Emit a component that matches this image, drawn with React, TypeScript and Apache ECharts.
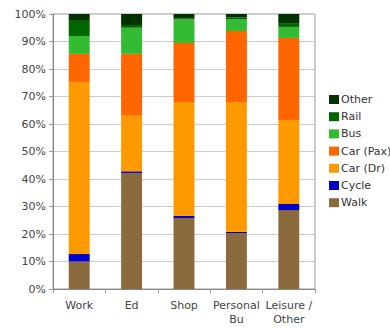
import React, { useEffect, useRef } from "react";
import * as echarts from "echarts";

const categories = ["Work", "Ed", "Shop", "Personal\nBu", "Leisure /\nOther"];
const walk = [10, 42.2, 25.8, 20.4, 28.7];
const cycle = [2.7, 0.6, 0.8, 0.4, 2.2];
const carDr = [62.6, 20.5, 41.4, 47.2, 30.6];
const carPax = [10.2, 22.2, 21.5, 25.8, 29.8];
const bus = [6.5, 9.5, 8.5, 4.4, 4.0];
const rail = [5.5, 1.0, 0.5, 0.5, 1.4];
const other = [2.5, 4.0, 1.5, 1.3, 3.3];

const seriesNames = ["Walk", "Cycle", "Car (Dr)", "Car (Pax)", "Bus", "Rail", "Other"];
const seriesData = [walk, cycle, carDr, carPax, bus, rail, other];
const seriesColors = ["#8B6B3D", "#0000CC", "#FF9900", "#FF6600", "#33BB33", "#006600", "#003300"];
const legendOrder = ["Other", "Rail", "Bus", "Car (Pax)", "Car (Dr)", "Cycle", "Walk"];

export default function App() {
  const ref = useRef<HTMLDivElement>(null);
  useEffect(() => {
    if (!ref.current) return;
    const chart = echarts.init(ref.current, undefined, { renderer: "svg" });
    const font = "DejaVu Sans";
    chart.setOption({
      animation: false,
      backgroundColor: "#ffffff",
      grid: {
        left: 53,
        right: 75,
        top: 14,
        bottom: 40,
        show: true,
        borderColor: "#999999",
        borderWidth: 1,
      },
      legend: {
        data: legendOrder,
        orient: "vertical",
        left: 329,
        top: 93,
        padding: 0,
        itemWidth: 10,
        itemHeight: 9,
        itemGap: 4.2,
        icon: "rect",
        textStyle: { fontFamily: font, fontSize: 11, color: "#333333", lineHeight: 13, padding: [0, 0, 0, -3] },
      },
      xAxis: {
        type: "category",
        data: categories,
        axisLine: { lineStyle: { color: "#888888" } },
        axisTick: { show: true, length: 4, lineStyle: { color: "#999999" } },
        axisLabel: { fontFamily: font, fontSize: 11, color: "#444444", margin: 9, lineHeight: 14, interval: 0 },
      },
      yAxis: {
        type: "value",
        min: 0,
        max: 100,
        interval: 10,
        axisLine: { show: true, lineStyle: { color: "#888888" } },
        axisTick: { show: true, length: 4, lineStyle: { color: "#999999" } },
        axisLabel: { fontFamily: font, fontSize: 11, color: "#444444", formatter: "{value}%", margin: 7 },
        splitLine: { lineStyle: { color: "#cccccc" } },
      },
      series: seriesNames.map((name, i) => ({
        name,
        type: "bar",
        stack: "total",
        barWidth: "40%",
        data: seriesData[i],
        itemStyle: { color: seriesColors[i] },
      })),
    });
    return () => chart.dispose();
  }, []);
  return (
    <div
      ref={ref}
      style={{ position: "fixed", left: 0, top: 0, width: 390, height: 329 }}
    />
  );
}
